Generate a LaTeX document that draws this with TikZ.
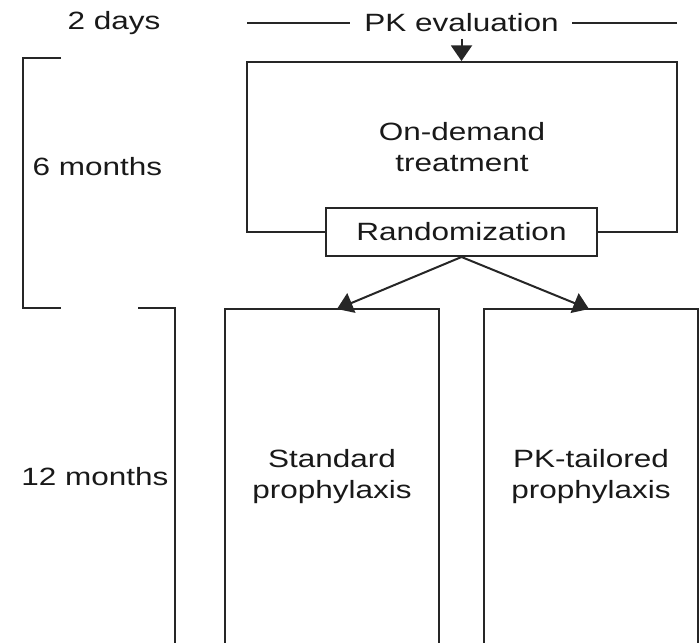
\documentclass[tikz,border=0pt]{standalone}
\usepackage{fontspec}
\setmainfont{Liberation Sans}
\usepackage{graphicx}
\usetikzlibrary{calc,arrows.meta}
\newcommand{\wtxt}[1]{\scalebox{1.26}[1]{#1}}

\begin{document}
\begin{tikzpicture}[x=0.5pt,y=-0.5pt,line width=1pt,color=black!85,line join=miter,
    lbl/.style={font=\fontsize{12.5}{15.5}\selectfont, text=black!90, inner sep=3pt, align=center},
    phase/.style={lbl, draw, inner sep=0pt},
    rbox/.style={lbl, draw, fill=white, minimum width=135.5pt, minimum height=24pt, inner sep=0pt},
    arm/.style={lbl, draw, minimum width=107pt, minimum height=168pt, inner sep=0pt},
    arr/.style={-{Triangle[length=7.8pt,width=10.5pt]}}]
    \useasboundingbox (0,0) rectangle (700,642);
    % time line labels
    \node[lbl] (d2)  at (114,22.7)  {\wtxt{2 days}};
    \node[lbl] (m6)  at (97.5,166.7) {\wtxt{6 months}};
    \node[lbl] (m12) at (95,477)    {\wtxt{12 months}};
    \draw (61,58) -- (23,58) -- (23,308) -- (61,308);
    \draw (138,308) -- (175,308) -- (175,645);
    % PK evaluation
    \node[lbl] (pk) at (461.5,22.7) {\wtxt{PK evaluation}};
    \coordinate (pkl) at (247,22.7);
    \coordinate (pkr) at (677,22.7);
    \draw[shorten >=3.5pt] (pkl) -- (pk.west);
    \draw[shorten >=3pt]   (pkr) -- (pk.east);
    % on-demand phase
    \node[phase, minimum width=215pt, minimum height=85pt] (od) at (462,147) {\wtxt{On-demand}\\\wtxt{treatment}};
    \node[rbox] (rand) at (461.5,232) {\wtxt{Randomization}};
    \draw[arr] (pk.south) -- (pk.south |- od.north);
    % prophylaxis arms
    \node[arm] (std) at (332,477) {\wtxt{Standard}\\\wtxt{prophylaxis}};
    \node[arm] (pkt) at (591,477) {\wtxt{PK-tailored}\\\wtxt{prophylaxis}};
    \coordinate (sa) at (337,309);
    \coordinate (ta) at (589,309);
    \draw[arr] (rand.south) -- (sa);
    \draw[arr] (rand.south) -- (ta);
\end{tikzpicture}
\end{document}
